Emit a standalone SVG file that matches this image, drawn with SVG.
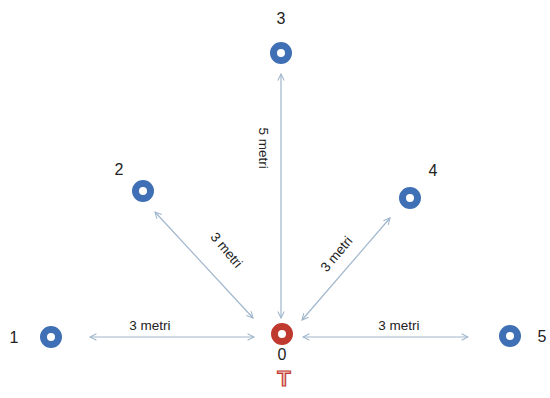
<svg xmlns="http://www.w3.org/2000/svg" width="550" height="398" viewBox="0 0 550 398">
<style>
.ring{fill:none;stroke-width:7}
.blue{stroke:#3f6fb4}
.red{stroke:#c0392f}
.lbl{font-family:"Liberation Sans",Arial,sans-serif;font-size:16px;fill:#222;text-anchor:middle}
.dim{font-family:"Liberation Sans",Arial,sans-serif;font-size:13.5px;fill:#222;text-anchor:middle}
.conn{stroke:#9fb6cc;stroke-width:1.2;fill:none;marker-start:url(#ah);marker-end:url(#ah)}
</style>
<defs>
<marker id="ah" viewBox="0 0 10 10" refX="9" refY="5" markerWidth="8" markerHeight="8" orient="auto-start-reverse" markerUnits="userSpaceOnUse">
<path d="M1,1 L9,5 L1,9" fill="none" stroke="#9fb6cc" stroke-width="1.3"/>
</marker>
</defs>
<rect width="550" height="398" fill="#fff"/>
<g id="connectors">
<line class="conn" x1="281" y1="74" x2="281" y2="318"/>
<line class="conn" x1="155" y1="212" x2="253" y2="318"/>
<line class="conn" x1="390" y1="218" x2="302" y2="320"/>
<line class="conn" x1="90" y1="337" x2="254" y2="337"/>
<line class="conn" x1="303" y1="337" x2="468" y2="337"/>
<text class="dim" x="150" y="330">3 metri</text>
<text class="dim" x="399" y="330">3 metri</text>
<text class="dim" transform="translate(259,148) rotate(90)">5 metri</text>
<text class="dim" transform="translate(223,253) rotate(50)">3 metri</text>
<text class="dim" transform="translate(340,257) rotate(-50)">3 metri</text>
</g>
<g id="node3"><circle class="ring blue" cx="281" cy="53" r="7.5"/><text class="lbl" x="281" y="24">3</text></g>
<g id="node2"><circle class="ring blue" cx="143" cy="191" r="7.5"/><text class="lbl" x="119" y="175">2</text></g>
<g id="node4"><circle class="ring blue" cx="410" cy="198" r="7.5"/><text class="lbl" x="433" y="176">4</text></g>
<g id="node1"><circle class="ring blue" cx="51" cy="337" r="7.5"/><text class="lbl" x="14" y="343">1</text></g>
<g id="node5"><circle class="ring blue" cx="510" cy="336" r="7.5"/><text class="lbl" x="542" y="342">5</text></g>
<g id="node0"><circle class="ring red" cx="282" cy="334" r="7.5"/><text class="lbl" x="282" y="360">0</text>
<text x="284" y="386" font-family="Liberation Sans,Arial,sans-serif" font-size="22" font-weight="bold" text-anchor="middle" fill="#f2c4c0" stroke="#c0392f" stroke-width="1.2">T</text></g>
</svg>
